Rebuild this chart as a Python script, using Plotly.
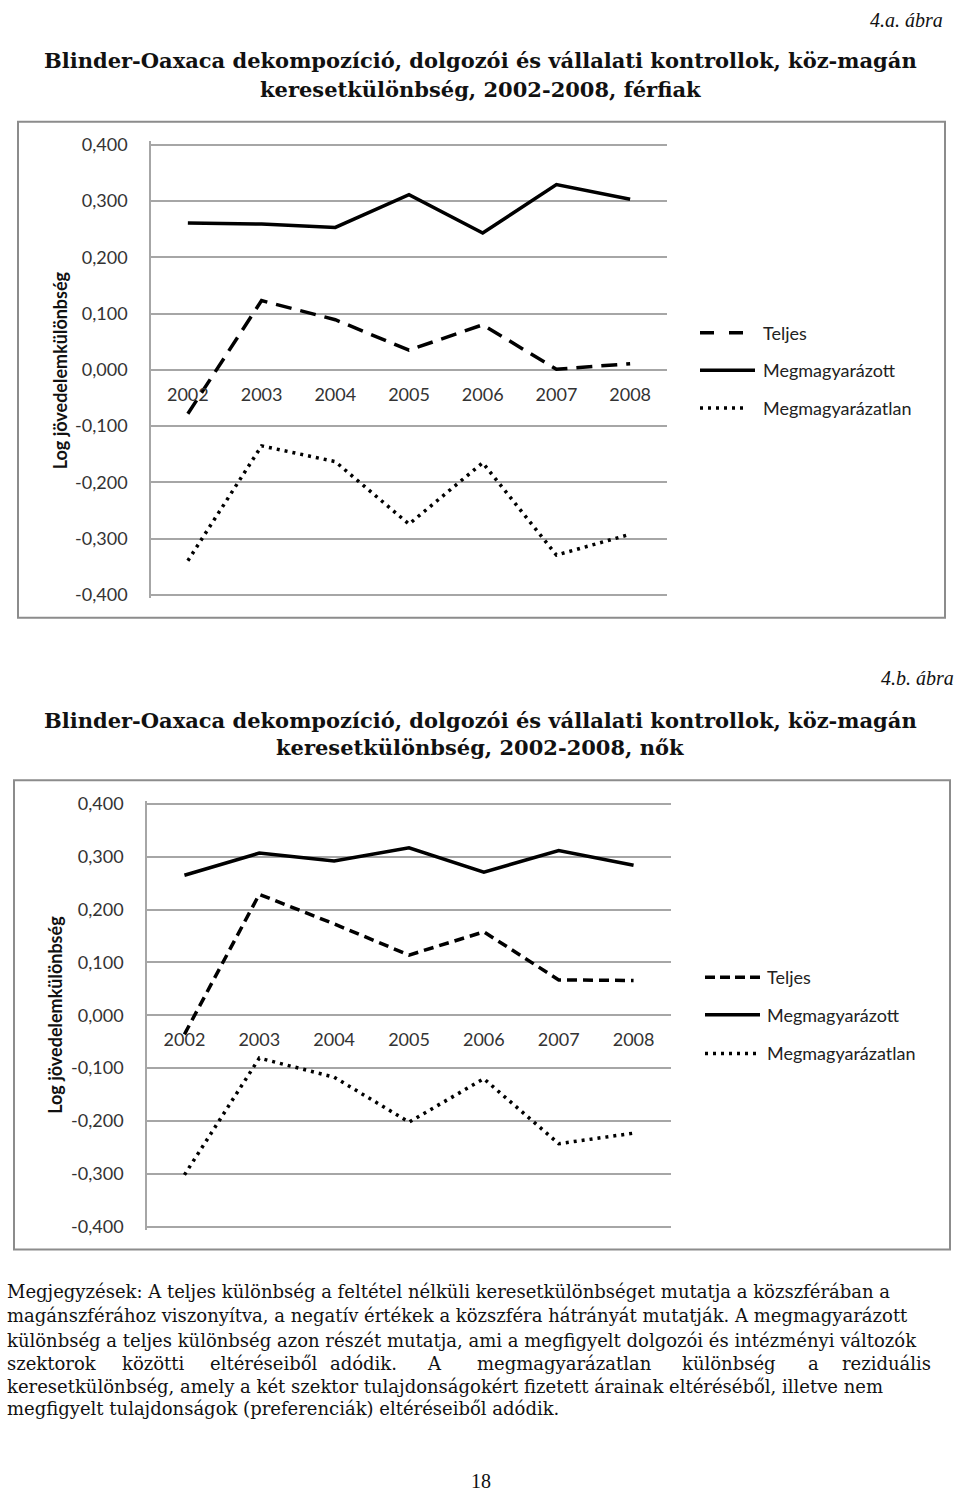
import plotly.graph_objects as go

# ---------------- data ----------------
years = ["2002", "2003", "2004", "2005", "2006", "2007", "2008"]

# 4.a – férfiak
men_teljes = [-0.078, 0.123, 0.089, 0.035, 0.080, 0.001, 0.011]
men_megmagyarazott = [0.261, 0.259, 0.253, 0.311, 0.243, 0.329, 0.303]
men_megmagyarazatlan = [-0.339, -0.135, -0.163, -0.274, -0.165, -0.329, -0.292]

# 4.b – nők
women_teljes = [-0.036, 0.229, 0.173, 0.114, 0.158, 0.067, 0.066]
women_megmagyarazott = [0.265, 0.307, 0.292, 0.317, 0.271, 0.312, 0.284]
women_megmagyarazatlan = [-0.302, -0.081, -0.117, -0.202, -0.120, -0.243, -0.223]

series_names = ["Teljes", "Megmagyarázott", "Megmagyarázatlan"]
y_tickvals = [-0.4, -0.3, -0.2, -0.1, 0.0, 0.1, 0.2, 0.3, 0.4]
y_ticktext = ["-0,400", "-0,300", "-0,200", "-0,100", "0,000", "0,100", "0,200", "0,300", "0,400"]
y_title = "Log jövedelemkülönbség"

fig_labels = ["4.a. ábra", "4.b. ábra"]
titles = [
    ["Blinder-Oaxaca dekompozíció, dolgozói és vállalati kontrollok, köz-magán",
     "keresetkülönbség, 2002-2008, férfiak"],
    ["Blinder-Oaxaca dekompozíció, dolgozói és vállalati kontrollok, köz-magán",
     "keresetkülönbség, 2002-2008, nők"],
]
note_lines = [
    "Megjegyzések: A teljes különbség a feltétel nélküli keresetkülönbséget mutatja a közszférában a",
    "magánszférához viszonyítva, a negatív értékek a közszféra hátrányát mutatják. A megmagyarázott",
    "különbség a teljes különbség azon részét mutatja, ami a megfigyelt dolgozói és intézményi változók",
    "szektorok közötti eltéréseiből adódik. A megmagyarázatlan különbség a reziduális",
    "keresetkülönbség, amely a két szektor tulajdonságokért fizetett árainak eltéréséből, illetve nem",
    "megfigyelt tulajdonságok (preferenciák) eltéréseiből adódik.",
]
page_number = "18"

# ---------------- layout helpers ----------------
W, H = 960, 1499


def px(x):
    return x / W


def py(y):
    return 1 - y / H


CHART_FONT = "Lato, 'Noto Sans', sans-serif"
SERIF = "'Liberation Serif', 'DejaVu Serif', serif"
WIDE_SERIF = "'DejaVu Serif', 'Liberation Serif', serif"
GRID = "#a6a6a6"
YMAX = 0.4
PAD = 0.006   # keeps the ±0,400 gridlines just inside the plot area

charts = [
    dict(xa="x", ya="y", plot=(151, 138, 667, 593), box=(18, 115, 945, 616),
         data=(men_teljes, men_megmagyarazott, men_megmagyarazatlan),
         dash_total="16px,9px", leg_dash_total="14px,15px",
         leg=(700, 761, [328, 366, 404], [743, 755, 748]),
         ytitle=(60, 366), label_y=12, label_x=945, title_y=(53, 82)),
    dict(xa="x2", ya="y2", plot=(147, 804, 671, 1231), box=(14, 780, 950, 1254),
         data=(women_teljes, women_megmagyarazott, women_megmagyarazatlan),
         dash_total="10px,6px", leg_dash_total="10px,5px",
         leg=(705, 765, [979, 1017, 1056], [760, 760, 757]),
         ytitle=(55, 1017), label_y=677, label_x=956, title_y=(720, 747)),
]

fig = go.Figure()
shapes = []
annotations = []

for i, c in enumerate(charts):
    x0, y0, x1, y1 = c["plot"]
    total, expl, unexpl = c["data"]
    dashes = [c["dash_total"], "solid", "3px,5px"]
    for name, vals, dash in zip(series_names, (total, expl, unexpl), dashes):
        fig.add_trace(go.Scatter(
            x=years, y=vals, mode="lines", name=name, showlegend=False,
            line=dict(color="black", width=3.5, dash=dash),
            xaxis=c["xa"], yaxis=c["ya"],
        ))
    suffix = "" if i == 0 else "2"
    ext = PAD / (2 * YMAX) * (y1 - y0)
    zero_pos = py(y0 + (y1 - y0) / 2)
    fig.layout["xaxis" + suffix] = dict(
        domain=[px(x0), px(x1)], anchor="free", position=zero_pos,
        type="category", categoryorder="array", categoryarray=years,
        range=[-0.5, 6.5], showgrid=False, showline=False, zeroline=False,
        ticks="", ticklabelstandoff=12,
        tickfont=dict(family=CHART_FONT, size=18, color="#333333"),
        fixedrange=True,
    )
    fig.layout["yaxis" + suffix] = dict(
        domain=[py(y1 + ext), py(y0 - ext)], anchor=c["xa"],
        range=[-YMAX - PAD, YMAX + PAD],
        tickmode="array", tickvals=y_tickvals, ticktext=y_ticktext,
        showgrid=True, gridcolor=GRID, gridwidth=1.5,
        zeroline=False, showline=True, linecolor=GRID, linewidth=1.5,
        ticks="", ticklabelstandoff=18,
        tickfont=dict(family=CHART_FONT, size=18, color="#333333"),
        fixedrange=True,
    )
    # outer chart frame
    bx0, by0, bx1, by1 = c["box"]
    shapes.append(dict(type="rect", xref="paper", yref="paper",
                       x0=px(bx0), x1=px(bx1), y0=py(by1), y1=py(by0),
                       line=dict(color="#8c8c8c", width=2), fillcolor="rgba(0,0,0,0)"))
    # y-axis title
    tx, ty = c["ytitle"]
    annotations.append(dict(text="<b>" + y_title + "</b>", x=px(tx), y=py(ty),
                            xref="paper", yref="paper", textangle=-90, showarrow=False,
                            xanchor="center", yanchor="middle",
                            font=dict(family=CHART_FONT, size=18, color="#111111")))
    # legend (drawn manually to reproduce the long line samples)
    lx0, ltx, lys, lx1s = c["leg"]
    leg_dashes = [c["leg_dash_total"], "solid", "3px,5px"]
    for name, ly, lx1, dash in zip(series_names, lys, lx1s, leg_dashes):
        shapes.append(dict(type="line", xref="paper", yref="paper",
                           x0=px(lx0), x1=px(lx1), y0=py(ly), y1=py(ly),
                           line=dict(color="black", width=3.5, dash=dash)))
        annotations.append(dict(text=name, x=px(ltx), y=py(ly), xref="paper", yref="paper",
                                xanchor="left", yanchor="middle", showarrow=False,
                                font=dict(family=CHART_FONT, size=18, color="#222222")))
    # figure label and title
    annotations.append(dict(text="<i>" + fig_labels[i] + "</i>", x=px(c["label_x"]), y=py(c["label_y"]),
                            xref="paper", yref="paper", xanchor="right", yanchor="middle",
                            showarrow=False, font=dict(family=SERIF, size=20, color="#111111")))
    for line, ty in zip(titles[i], c["title_y"]):
        annotations.append(dict(text="<b>" + line + "</b>", x=px(480), y=py(ty),
                                xref="paper", yref="paper", xanchor="center", yanchor="middle",
                                showarrow=False, font=dict(family=WIDE_SERIF, size=21, color="#111111")))

# notes
note_ys = [1296, 1321, 1346, 1369, 1392, 1415]
justified_line_x = [5, 120, 208, 328, 425, 475, 680, 806, 840]
for k, (line, ny) in enumerate(zip(note_lines, note_ys)):
    if k == 3:
        for word, wx in zip(line.split(" "), justified_line_x):
            annotations.append(dict(text=word, x=px(wx), y=py(ny), xref="paper", yref="paper",
                                    xanchor="left", yanchor="middle", showarrow=False,
                                    font=dict(family=WIDE_SERIF, size=18, color="#111111")))
    else:
        annotations.append(dict(text=line, x=px(5), y=py(ny), xref="paper", yref="paper",
                                xanchor="left", yanchor="middle", showarrow=False,
                                font=dict(family=WIDE_SERIF, size=18, color="#111111")))
annotations.append(dict(text=page_number, x=px(481), y=py(1488), xref="paper", yref="paper",
                        xanchor="center", yanchor="middle", showarrow=False,
                        font=dict(family=SERIF, size=20, color="#111111")))

fig.update_layout(
    width=W, height=H, margin=dict(l=0, r=0, t=0, b=0),
    paper_bgcolor="white", plot_bgcolor="white",
    showlegend=False, shapes=shapes, annotations=annotations,
)

fig.write_html("out.html", config={"displayModeBar": False},
               post_script="document.body.style.margin='0px';")
